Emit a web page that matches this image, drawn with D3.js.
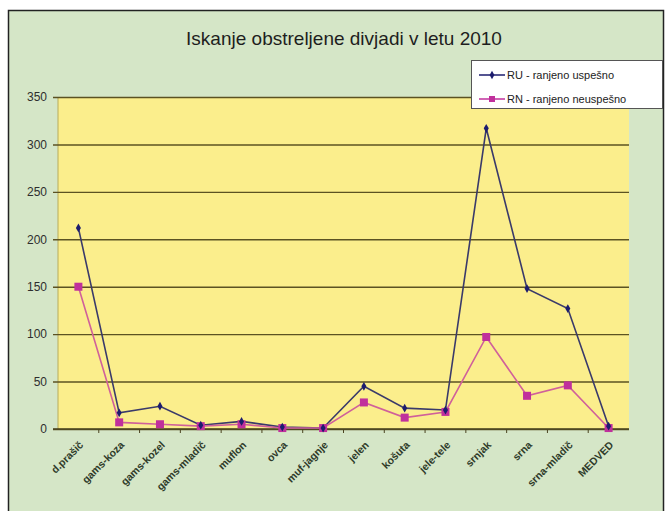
<!DOCTYPE html>
<html>
<head>
<meta charset="utf-8">
<script src="https://cdn.jsdelivr.net/npm/d3@7"></script>
<style>
  html, body { margin: 0; padding: 0; background: #ffffff; }
  svg { display: block; font-family: "Liberation Sans", Arial, sans-serif; }
</style>
</head>
<body>
<div id="chart"></div>
<script>
// data
const categories = ["d.prašič", "gams-koza", "gams-kozel", "gams-mladič", "muflon", "ovca",
  "muf-jagnje", "jelen", "košuta", "jele-tele", "srnjak", "srna", "srna-mladič", "MEDVED"];
const ruValues = [212, 17, 24, 4, 8, 2, 1, 45, 22, 20, 317, 148, 127, 3];
const rnValues = [150, 7, 5, 3, 5, 1, 1, 28, 12, 18, 97, 35, 46, 1];
const yTicks = [0, 50, 100, 150, 200, 250, 300, 350];
const seriesNames = ["RU - ranjeno uspešno", "RN - ranjeno neuspešno"];

const width = 665;
const height = 511;
const plot = { left: 58, right: 629, top: 97, bottom: 429 };
const ruColor = "#1c1c6e";
const rnColor = "#c0309c";

const svg = d3.select("#chart").append("svg")
  .attr("width", width)
  .attr("height", height);

// outer chart area
svg.append("rect")
  .attr("x", 8.5).attr("y", 10.5)
  .attr("width", 655).attr("height", 510)
  .attr("fill", "#d5e6c7")
  .attr("stroke", "#222")
  .attr("stroke-width", 1.5);

// plot area
svg.append("rect")
  .attr("x", plot.left).attr("y", plot.top)
  .attr("width", plot.right - plot.left).attr("height", plot.bottom - plot.top)
  .attr("fill", "#fbee8c");

svg.append("line")
  .attr("x1", plot.left).attr("x2", plot.left)
  .attr("y1", plot.top).attr("y2", plot.bottom)
  .attr("stroke", "#b8ac5a").attr("stroke-width", 1);

const x = d3.scaleBand().domain(categories).range([plot.left, plot.right]);
const y = d3.scaleLinear().domain([0, 350]).range([plot.bottom, plot.top]);

// y axis with gridlines
const yAxis = svg.append("g")
  .attr("transform", "translate(" + plot.left + ",0)")
  .call(d3.axisLeft(y).tickValues(yTicks).tickSize(-(plot.right - plot.left)).tickSizeOuter(0).tickPadding(11));
yAxis.select(".domain").remove();
yAxis.selectAll(".tick line")
  .attr("x1", -5)
  .attr("stroke", "#5b5222")
  .attr("stroke-width", 1.4);
yAxis.selectAll(".tick text")
  .attr("fill", "#2e2e2e")
  .style("font-size", "12px");

// x axis
const xAxis = svg.append("g")
  .attr("transform", "translate(0," + plot.bottom + ")")
  .call(d3.axisBottom(x).tickSize(0).tickSizeOuter(0));
xAxis.select(".domain")
  .attr("stroke", "#4a4420")
  .attr("stroke-width", 1.6)
  .attr("d", "M" + (plot.left - 5) + ",0H" + plot.right);
xAxis.selectAll(".tick text")
  .attr("fill", "#2f3b2a")
  .style("font-size", "10.5px")
  .style("font-weight", "bold")
  .attr("text-anchor", "end")
  .attr("dy", "0.35em")
  .attr("transform", "translate(3,14) rotate(-45)")
  .attr("x", 0).attr("y", 0);

// tick marks between categories
svg.append("g")
  .selectAll("line")
  .data(categories.slice(1))
  .join("line")
  .attr("x1", d => x(d)).attr("x2", d => x(d))
  .attr("y1", plot.bottom).attr("y2", plot.bottom + 4)
  .attr("stroke", "#4a4420");

const cx = (d, i) => x(categories[i]) + x.bandwidth() / 2;
const line = d3.line().x((d, i) => cx(d, i)).y(d => y(d));

// RU series
svg.append("path")
  .datum(ruValues)
  .attr("d", line)
  .attr("fill", "none")
  .attr("stroke", "#3a3a6a")
  .attr("stroke-width", 1.6);

// RN series
svg.append("path")
  .datum(rnValues)
  .attr("d", line)
  .attr("fill", "none")
  .attr("stroke", "#d0609a")
  .attr("stroke-width", 1.6);

svg.append("g")
  .selectAll("rect")
  .data(rnValues)
  .join("rect")
  .attr("x", (d, i) => cx(d, i) - 4)
  .attr("y", d => y(d) - 4)
  .attr("width", 8).attr("height", 8)
  .attr("fill", rnColor);

svg.append("g")
  .selectAll("path")
  .data(ruValues)
  .join("path")
  .attr("d", d3.symbol(d3.symbolDiamond, 22))
  .attr("transform", (d, i) => "translate(" + cx(d, i) + "," + y(d) + ")")
  .attr("fill", ruColor);

// title
svg.append("text")
  .attr("x", 344).attr("y", 45)
  .attr("text-anchor", "middle")
  .attr("fill", "#1e1e1e")
  .style("font-size", "19px")
  .text("Iskanje obstreljene divjadi v letu 2010");

// legend
const legend = svg.append("g").attr("transform", "translate(471,60)");
legend.append("rect")
  .attr("x", 0.5).attr("y", 0.5)
  .attr("width", 191).attr("height", 48)
  .attr("fill", "#ffffff")
  .attr("stroke", "#555")
  .attr("stroke-width", 1);

const items = legend.selectAll(".item")
  .data(seriesNames)
  .join("g")
  .attr("class", "item")
  .attr("transform", (d, i) => "translate(0," + (15 + i * 24) + ")");

items.append("line")
  .attr("x1", 8).attr("x2", 34)
  .attr("stroke", (d, i) => i === 0 ? ruColor : rnColor)
  .attr("stroke-width", 1.5);

items.append("path")
  .attr("d", (d, i) => i === 0 ? d3.symbol(d3.symbolDiamond, 20)() : "M-3,-3h6v6h-6Z")
  .attr("transform", "translate(21,0)")
  .attr("fill", (d, i) => i === 0 ? ruColor : rnColor);

items.append("text")
  .attr("x", 36).attr("dy", "0.35em")
  .attr("fill", "#222")
  .style("font-size", "11px")
  .text(d => d);
</script>
</body>
</html>
